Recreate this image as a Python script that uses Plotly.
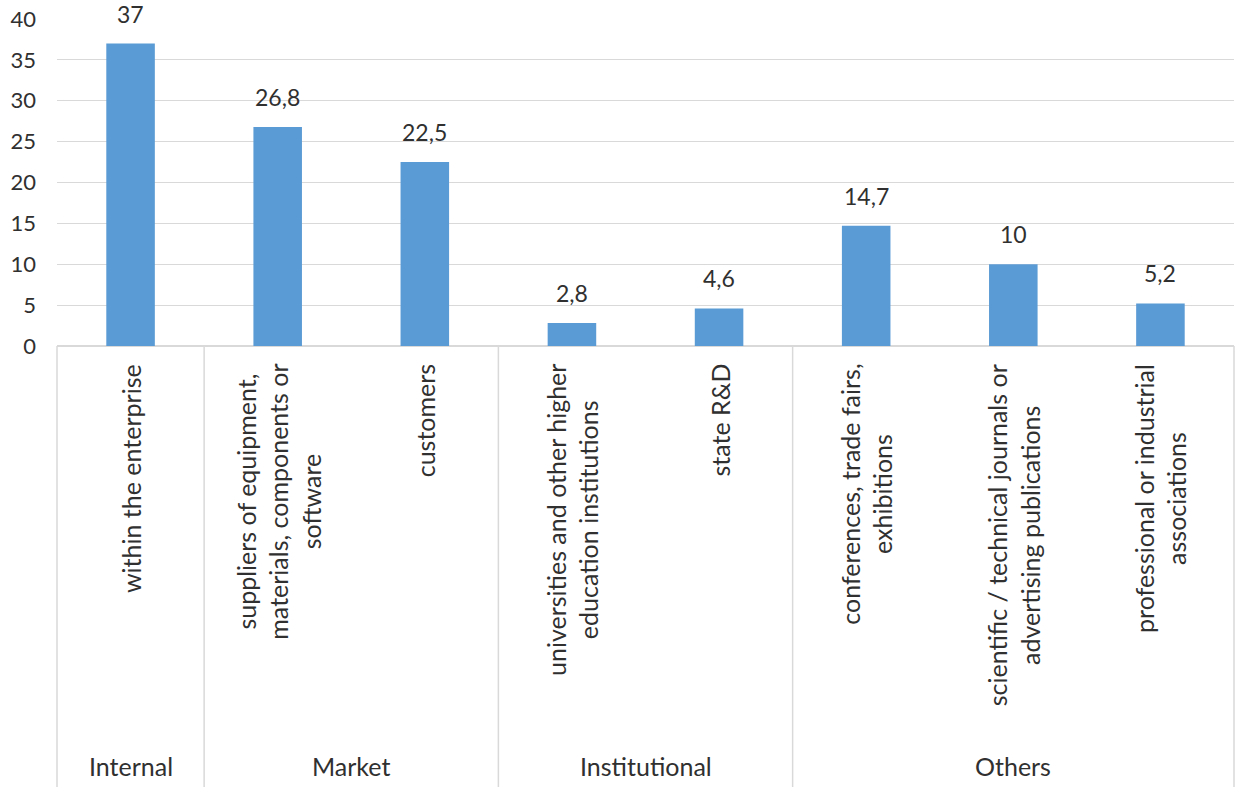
import plotly.graph_objects as go

# ---- data ----
groups = ["Internal", "Market", "Market", "Institutional", "Institutional",
          "Others", "Others", "Others"]
categories = [
    "within the enterprise",
    "suppliers of equipment,<br>materials, components or<br>software",
    "customers",
    "universities and other higher<br>education institutions",
    "state R&amp;D",
    "conferences, trade fairs,<br>exhibitions",
    "scientific / technical journals or<br>advertising publications",
    "professional or industrial<br>associations",
]
values = [37, 26.8, 22.5, 2.8, 4.6, 14.7, 10, 5.2]
y_ticks = [0, 5, 10, 15, 20, 25, 30, 35, 40]

# ---- style / layout constants ----
W, H = 1239, 787
M_L, M_R, M_T, M_B = 57, 5, 19, 441
PLOT_H = H - M_T - M_B
FONT = "Lato"
TXT = "#303030"
GRID = "#D9D9D9"
BAR = "#5B9BD5"

x = list(range(len(values)))
value_text = [("%g" % v).replace(".", ",") for v in values]

fig = go.Figure(go.Bar(x=x, y=values, width=0.33, marker_color=BAR,
                       marker_line_width=0, hoverinfo="skip"))

annotations = []
# value labels above bars
for xi, v, t in zip(x, values, value_text):
    annotations.append(dict(x=xi, y=v, xref="x", yref="y", text=t, showarrow=False,
                            yanchor="bottom", yshift=14,
                            font=dict(family=FONT, size=23, color=TXT)))
# rotated category labels
label_top = -16 / PLOT_H
for xi, c in zip(x, categories):
    annotations.append(dict(x=xi, y=label_top, xref="x", yref="paper", text=c,
                            showarrow=False, textangle=-90, align="center",
                            xanchor="center", yanchor="top",
                            font=dict(family=FONT, size=25, color=TXT)))
# group labels and separators
shapes = []
bottom = -M_B / PLOT_H
group_y = -(766 - (H - M_B)) / PLOT_H
order = []
for g in groups:
    if g not in order:
        order.append(g)
for g in order:
    idx = [i for i, gg in enumerate(groups) if gg == g]
    annotations.append(dict(x=sum(idx) / len(idx), y=group_y, xref="x", yref="paper",
                            text=g, showarrow=False, yanchor="middle",
                            font=dict(family=FONT, size=25, color=TXT)))
    if idx[0] > 0:
        shapes.append(dict(type="line", xref="x", yref="paper",
                           x0=idx[0] - 0.5, x1=idx[0] - 0.5, y0=0, y1=bottom,
                           line=dict(color=GRID, width=1.5)))
for xd in (0, 1):
    shapes.append(dict(type="line", xref="x domain", yref="paper",
                       x0=xd, x1=xd, y0=0, y1=bottom,
                       line=dict(color=GRID, width=1.5)))

fig.update_layout(
    width=W, height=H,
    margin=dict(l=M_L, r=M_R, t=M_T, b=M_B),
    paper_bgcolor="white", plot_bgcolor="white",
    showlegend=False,
    font=dict(family=FONT, size=22, color=TXT),
    xaxis=dict(range=[-0.5, len(values) - 0.5], showticklabels=False, showgrid=False,
               zeroline=False, showline=False, ticks=""),
    yaxis=dict(range=[0, 40], tickvals=y_ticks, ticktext=[str(t) for t in y_ticks],
               showgrid=True, gridcolor=GRID, gridwidth=1.2,
               zeroline=True, zerolinecolor=GRID, zerolinewidth=1.5,
               showline=False, ticks="", ticklabelstandoff=20,
               tickfont=dict(family=FONT, size=22, color=TXT)),
    annotations=annotations,
    shapes=shapes,
    bargap=0.67,
)

fig.write_html("out.html", config={"displayModeBar": False},
               post_script="document.body.style.margin='0';")
